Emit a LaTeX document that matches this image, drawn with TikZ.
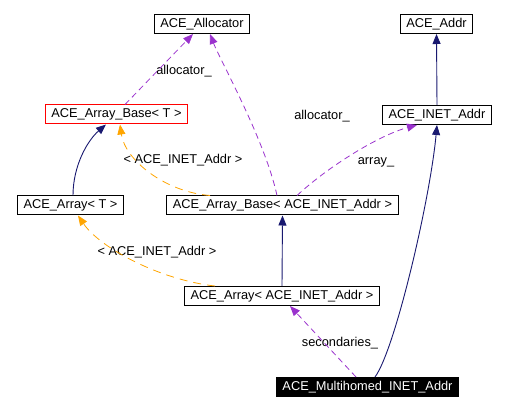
\documentclass[tikz,border=0pt]{standalone}
\usepackage{fontspec}
\setmainfont{Liberation Sans}
\usetikzlibrary{arrows.meta}
\definecolor{inhblue}{RGB}{25,25,112}
\definecolor{usepurple}{RGB}{154,50,205}
\definecolor{tmplorange}{RGB}{255,165,0}
\begin{document}
\begin{tikzpicture}[x=1pt,y=-1pt,
  cls/.style={draw,line width=1pt,inner xsep=6pt,inner ysep=0pt,minimum height=19pt,font=\fontsize{12.8}{14}\selectfont},
  lbl/.style={inner sep=1pt,font=\fontsize{12.8}{14}\selectfont},
  inh/.style={draw=inhblue,line width=0.9pt,-{Triangle[length=10pt,width=8pt]}},
  uses/.style={draw=usepurple,line width=0.8pt,dash pattern=on 6pt off 4pt,-{Triangle[length=10pt,width=8pt]}},
  tmpl/.style={draw=tmplorange,line width=0.8pt,dash pattern=on 8pt off 6pt,-{Triangle[length=10pt,width=8pt]}}]
\useasboundingbox (0,0) rectangle (506,411);
\node[cls] (alloc) at (202,24){ACE\_Allocator};
\node[cls] (addr) at (436.5,24){ACE\_Addr};
\node[cls,draw=red] (baset) at (116.5,114.5){ACE\_Array\_Base< T >};
\node[cls] (inet) at (437,115){ACE\_INET\_Addr};
\node[cls] (arrt) at (70.5,205.5){ACE\_Array< T >};
\node[cls] (basei) at (282.5,205.5){ACE\_Array\_Base< ACE\_INET\_Addr >};
\node[cls] (arri) at (282,296){ACE\_Array< ACE\_INET\_Addr >};
\node[cls,fill=black,text=white] (multi) at (367.5,387){ACE\_Multihomed\_INET\_Addr};

\node[lbl] (lalloca) at (184,71){allocator\_};
\node[lbl] (lallocb) at (322,116){allocator\_};
\node[lbl] (larray) at (376,162){array\_};
\node[lbl] (ltmpla) at (183,160){< ACE\_INET\_Addr >};
\node[lbl] (ltmplb) at (157,252){< ACE\_INET\_Addr >};
\node[lbl] (lsec) at (340,343){secondaries\_};

\draw[inh] (inet.north) -- (addr.south);
\draw[inh] ([xshift=7.5pt]multi.north) .. controls (395,350) and (430,200) .. (inet.south);
\draw[inh] ([xshift=2.5pt]arrt.north) .. controls (73,165) and (88,140) .. ([xshift=-10.5pt]baset.south);
\draw[inh] (arri.north) -- (basei.south);
\draw[tmpl] ([xshift=-72.5pt]basei.north) .. controls (165,192) and (125,160) .. ([xshift=3.5pt]baset.south);
\draw[tmpl] ([xshift=-67pt]arri.north) .. controls (160,280) and (100,248) .. ([xshift=7.5pt]arrt.south);
\draw[uses] ([xshift=8.5pt]baset.north) -- ([xshift=-9pt]alloc.south);
\draw[uses] ([xshift=-5.5pt]basei.north) .. controls (265,140) and (220,60) .. ([xshift=8pt]alloc.south);
\draw[uses] ([xshift=14.5pt]basei.north) .. controls (330,165) and (380,135) .. ([xshift=-20pt]inet.south);
\draw[uses] ([xshift=-11.5pt]multi.north) -- ([xshift=8pt]arri.south);
\end{tikzpicture}
\end{document}
